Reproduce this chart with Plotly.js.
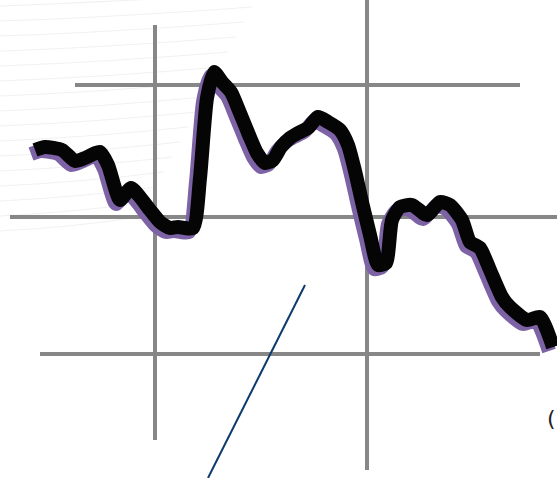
<!DOCTYPE html>
<html><head><meta charset="utf-8">
<script src="https://cdn.plot.ly/plotly-3.0.1.min.js"></script>
<style>html,body{margin:0;padding:0;background:#fff;overflow:hidden}#c{width:557px;height:478px}</style>
</head><body><div id="c"></div>
<script>
// Series (x position, value; value grows upward)
var xs = [35,45,62,75,85,100,108,120,131,140,150,160,170,178,193,200,207,214,222,231,240,249,257,265,273,281,290,298,308,318,328,340,348,355,362,370,378,386,392,400,412,427,440,450,462,470,480,490,502,510,527,540,553];
var ys = [328,331,328,317,320,326,313,278,290,281,268,256,250,251,250,300,380,406,396,386,365,343,325,315,318,331,340,345,350,361,356,348,333,307,276,243,213,215,258,271,273,263,276,273,258,236,230,208,181,171,158,161,131];
var gridX = [155,367];
var gridY = [393,261,124];

var W=557,H=478;
var traces = [
 {x:xs,y:ys,mode:'lines',line:{color:'#7d63a6',width:14,shape:'spline',smoothing:0.6},hoverinfo:'skip'},
 {x:xs,y:ys,xaxis:'x2',yaxis:'y2',mode:'lines',line:{color:'#050505',width:14,shape:'spline',smoothing:0.6},hoverinfo:'skip'}
];
var shapes=[];
// faint background stripes upper-left
for(var i=0;i<16;i++){
  var yy = H-6-i*15;
  shapes.push({type:'path',path:'M0,'+yy+' Q'+(120-i*3)+','+(yy+4)+' '+(260-i*8)+','+(yy+14),line:{color:'rgba(205,205,205,0.28)',width:1.2},layer:'below'});
}
shapes.push({type:'line',x0:gridX[0],x1:gridX[0],y0:H-25,y1:H-440,line:{color:'#878787',width:4},layer:'below'});
shapes.push({type:'line',x0:gridX[1],x1:gridX[1],y0:H,y1:H-470,line:{color:'#878787',width:4},layer:'below'});
shapes.push({type:'line',x0:75,x1:520,y0:gridY[0],y1:gridY[0],line:{color:'#878787',width:4},layer:'below'});
shapes.push({type:'line',x0:10,x1:W,y0:gridY[1],y1:gridY[1],line:{color:'#878787',width:4},layer:'below'});
shapes.push({type:'line',x0:40,x1:540,y0:gridY[2],y1:gridY[2],line:{color:'#878787',width:4},layer:'below'});
// navy pointer line
shapes.push({type:'line',x0:305,y0:H-285,x1:208,y1:0,line:{color:'#0b3a6e',width:2}});

var ax = {range:[0,W],showgrid:false,zeroline:false,showticklabels:false,ticks:'',fixedrange:true};
var layout={width:W,height:H,margin:{l:0,r:0,t:0,b:0},paper_bgcolor:'#fff',plot_bgcolor:'rgba(0,0,0,0)',showlegend:false,
 xaxis:Object.assign({},ax,{range:[4,W+4]}),
 yaxis:Object.assign({},ax,{range:[4,H+4]}),
 xaxis2:Object.assign({},ax,{range:[0,W],overlaying:'x'}),
 yaxis2:Object.assign({},ax,{range:[0,H],overlaying:'y'}),
 shapes:shapes.map(function(s){s.xref='x2';s.yref='y2';return s;}),
 annotations:[{x:551,y:H-418,xref:'x2',yref:'y2',text:'(',showarrow:false,xanchor:'center',font:{family:'DejaVu Sans',size:22,color:'#222'}}]
};
Plotly.newPlot('c',traces,layout,{staticPlot:true,displayModeBar:false});
</script></body></html>
